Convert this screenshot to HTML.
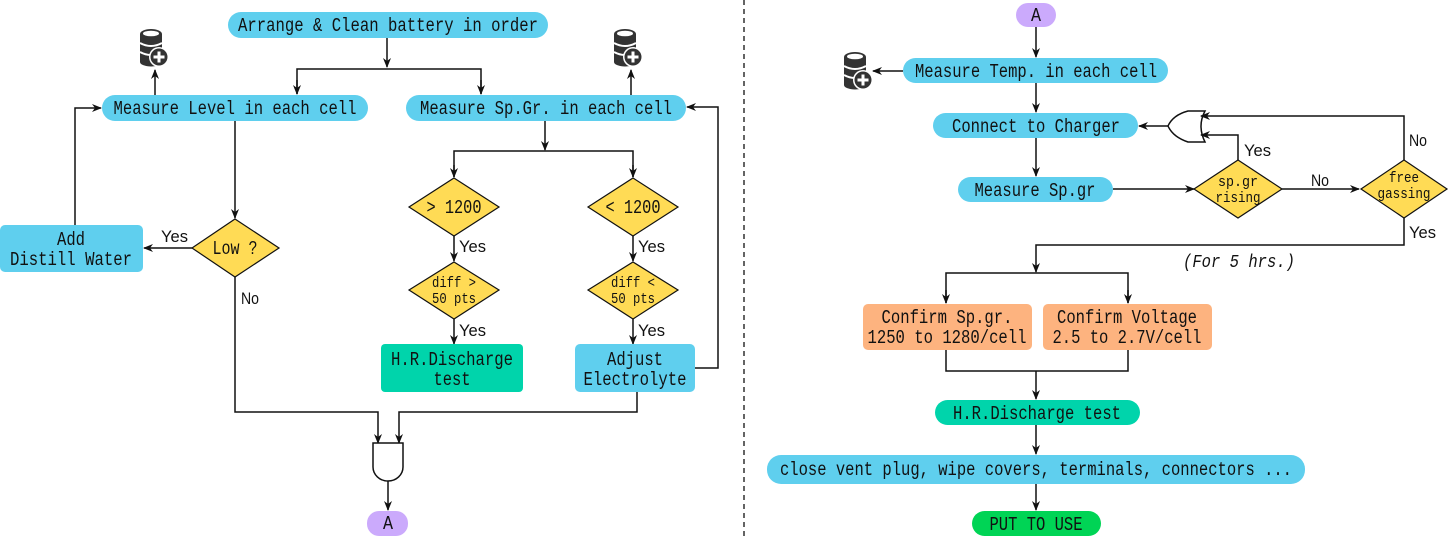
<!DOCTYPE html>
<html><head><meta charset="utf-8"><style>
html,body{margin:0;padding:0;background:#fff;}
svg{display:block;}
text{font-family:"Liberation Mono","DejaVu Sans Mono",monospace;fill:#111;}
.t text{font-size:19px;}
.s text{font-size:14.5px;}
.l text{font-family:"Liberation Sans","DejaVu Sans",sans-serif;font-size:17px;}
</style></head><body>
<svg width="1449" height="536" viewBox="0 0 1449 536" xmlns="http://www.w3.org/2000/svg">
<defs>
<marker id="a" markerWidth="10" markerHeight="10" refX="9" refY="5" orient="auto" markerUnits="userSpaceOnUse">
<path d="M0,1 L10,5 L0,9 L3,5 Z" fill="#111"/></marker>
<g id="db">
<ellipse cx="0" cy="5" rx="11" ry="5" fill="#333"/>
<rect x="-11" y="5" width="22" height="28" fill="#333"/>
<ellipse cx="0" cy="33" rx="11" ry="4.5" fill="#333"/>
<ellipse cx="0" cy="4.5" rx="8" ry="2.8" fill="#fff"/>
<path d="M-11,14 Q0,20 11,14" stroke="#fff" stroke-width="2" fill="none"/>
<path d="M-11,23 Q0,29 11,23" stroke="#fff" stroke-width="2" fill="none"/>
<circle cx="8" cy="28" r="10" fill="#fff"/>
<circle cx="8" cy="28" r="8.5" fill="#333"/>
<rect x="6.5" y="22.5" width="3" height="11" fill="#fff"/>
<rect x="2.5" y="26.5" width="11" height="3" fill="#fff"/>
</g>
</defs>
<g stroke="#111" stroke-width="1.5" fill="none">
<path d="M387,38 V67" marker-end="url(#a)"/>
<path d="M297,94 V69 H481 V94" />
<path d="M297,80 V94" marker-end="url(#a)"/>
<path d="M481,80 V94" marker-end="url(#a)"/>
<path d="M155,95 V70" marker-end="url(#a)"/>
<path d="M631,95 V70" marker-end="url(#a)"/>
<path d="M235,121 V218" marker-end="url(#a)"/>
<path d="M192,248 H144" marker-end="url(#a)"/>
<path d="M75,225 V108 H101" marker-end="url(#a)"/>
<path d="M235,277 V412 H378 V443" marker-end="url(#a)"/>
<path d="M545,121 V150" marker-end="url(#a)"/>
<path d="M454,177 V151 H633 V177"/>
<path d="M454,165 V177" marker-end="url(#a)"/>
<path d="M633,165 V177" marker-end="url(#a)"/>
<path d="M454,236 V261" marker-end="url(#a)"/>
<path d="M633,236 V261" marker-end="url(#a)"/>
<path d="M454,319 V344" marker-end="url(#a)"/>
<path d="M633,319 V344" marker-end="url(#a)"/>
<path d="M695,368 H718 V107 H687" marker-end="url(#a)"/>
<path d="M637,392 V412 H399 V443" marker-end="url(#a)"/>
<path d="M373,443 H403 V467 A15,14 0 0 1 373,467 Z" fill="#fff"/>
<path d="M388,481 V510" marker-end="url(#a)"/>
<path d="M1036,27 V57" marker-end="url(#a)"/>
<path d="M903,71 H873" marker-end="url(#a)"/>
<path d="M1036,83 V112" marker-end="url(#a)"/>
<path d="M1036,138 V176" marker-end="url(#a)"/>
<path d="M1168,126 H1139" marker-end="url(#a)"/>
<path d="M1205,111 H1188 Q1173,115 1168,126 Q1173,137 1188,142 H1205 Q1197,126 1205,111 Z" fill="#fff"/>
<path d="M1404,160 V116 H1201" marker-end="url(#a)"/>
<path d="M1238,160 V135 H1201" marker-end="url(#a)"/>
<path d="M1113,189 H1194" marker-end="url(#a)"/>
<path d="M1282,189 H1359" marker-end="url(#a)"/>
<path d="M1404,218 V245 H1036 V272" marker-end="url(#a)"/>
<path d="M946,303 V273 H1128 V303"/>
<path d="M946,290 V303" marker-end="url(#a)"/>
<path d="M1128,290 V303" marker-end="url(#a)"/>
<path d="M946,350 V371 H1128 V350"/>
<path d="M1036,371 V399" marker-end="url(#a)"/>
<path d="M1036,425 V454" marker-end="url(#a)"/>
<path d="M1036,484 V510" marker-end="url(#a)"/>
</g>
<line x1="744" y1="0" x2="744" y2="536" stroke="#111" stroke-width="1.3" stroke-dasharray="5,4"/>
<use href="#db" x="151" y="29"/>
<use href="#db" x="625" y="29"/>
<use href="#db" x="855" y="52"/>
<g>
<rect x="228" y="12" width="320" height="26" rx="13" fill="#5fcfee"/>
<rect x="102" y="95" width="266" height="26" rx="13" fill="#5fcfee"/>
<rect x="406" y="95" width="280" height="26" rx="13" fill="#5fcfee"/>
<rect x="0" y="225" width="143" height="47" rx="5" fill="#5fcfee"/>
<polygon points="235,219 279,248 235,277 192,248" fill="#ffdb55" stroke="#111" stroke-width="1.2"/>
<polygon points="454,178 499,207 454,236 409,207" fill="#ffdb55" stroke="#111" stroke-width="1.2"/>
<polygon points="633,178 678,207 633,236 588,207" fill="#ffdb55" stroke="#111" stroke-width="1.2"/>
<polygon points="454,262 499,290 454,319 409,290" fill="#ffdb55" stroke="#111" stroke-width="1.2"/>
<polygon points="633,262 678,290 633,319 588,290" fill="#ffdb55" stroke="#111" stroke-width="1.2"/>
<rect x="381" y="344" width="142" height="48" rx="4" fill="#00d4ab"/>
<rect x="575" y="344" width="120" height="48" rx="5" fill="#5fcfee"/>
<rect x="367" y="511" width="41" height="25" rx="12" fill="#cbaafc"/>
<rect x="1016" y="3" width="40" height="24" rx="12" fill="#cbaafc"/>
<rect x="903" y="58" width="265" height="25" rx="12.5" fill="#5fcfee"/>
<rect x="933" y="113" width="205" height="25" rx="12.5" fill="#5fcfee"/>
<rect x="958" y="177" width="155" height="25" rx="12.5" fill="#5fcfee"/>
<polygon points="1238,160 1282,189 1238,218 1194,189" fill="#ffdb55" stroke="#111" stroke-width="1.2"/>
<polygon points="1404,160 1447,189 1404,218 1361,189" fill="#ffdb55" stroke="#111" stroke-width="1.2"/>
<rect x="863" y="304" width="169" height="46" rx="5" fill="#fdb37f"/>
<rect x="1043" y="304" width="169" height="46" rx="5" fill="#fdb37f"/>
<rect x="935" y="400" width="205" height="25" rx="12.5" fill="#00d4ab"/>
<rect x="767" y="455" width="538" height="29" rx="14" fill="#5fcfee"/>
<rect x="972" y="511" width="129" height="25" rx="12.5" fill="#00d455"/>
</g>
<g class="t" text-anchor="middle" lengthAdjust="spacingAndGlyphs">
<text x="388" y="31" textLength="300" lengthAdjust="spacingAndGlyphs">Arrange &amp; Clean battery in order</text>
<text x="235" y="114" textLength="243" lengthAdjust="spacingAndGlyphs">Measure Level in each cell</text>
<text x="546" y="114" textLength="252" lengthAdjust="spacingAndGlyphs">Measure Sp.Gr. in each cell</text>
<text x="71" y="245" textLength="28" lengthAdjust="spacingAndGlyphs">Add</text>
<text x="71" y="265" textLength="122" lengthAdjust="spacingAndGlyphs">Distill Water</text>
<text x="235" y="254" textLength="45" lengthAdjust="spacingAndGlyphs">Low ?</text>
<text x="454" y="213" textLength="55" lengthAdjust="spacingAndGlyphs">&gt; 1200</text>
<text x="633" y="213" textLength="55" lengthAdjust="spacingAndGlyphs">&lt; 1200</text>
<text x="452" y="365" textLength="122" lengthAdjust="spacingAndGlyphs">H.R.Discharge</text>
<text x="452" y="385" textLength="37" lengthAdjust="spacingAndGlyphs">test</text>
<text x="635" y="365" textLength="56" lengthAdjust="spacingAndGlyphs">Adjust</text>
<text x="635" y="385" textLength="103" lengthAdjust="spacingAndGlyphs">Electrolyte</text>
<text x="388" y="529" textLength="10" lengthAdjust="spacingAndGlyphs">A</text>
<text x="1036" y="21" textLength="10" lengthAdjust="spacingAndGlyphs">A</text>
<text x="1036" y="77" textLength="242" lengthAdjust="spacingAndGlyphs">Measure Temp. in each cell</text>
<text x="1036" y="132" textLength="168" lengthAdjust="spacingAndGlyphs">Connect to Charger</text>
<text x="1035" y="196" textLength="121" lengthAdjust="spacingAndGlyphs">Measure Sp.gr</text>
<text x="947" y="323" textLength="131" lengthAdjust="spacingAndGlyphs">Confirm Sp.gr.</text>
<text x="947" y="343" textLength="159" lengthAdjust="spacingAndGlyphs">1250 to 1280/cell</text>
<text x="1127" y="323" textLength="140" lengthAdjust="spacingAndGlyphs">Confirm Voltage</text>
<text x="1127" y="343" textLength="149" lengthAdjust="spacingAndGlyphs">2.5 to 2.7V/cell</text>
<text x="1037" y="419" textLength="168" lengthAdjust="spacingAndGlyphs">H.R.Discharge test</text>
<text x="1036" y="475" textLength="512" lengthAdjust="spacingAndGlyphs">close vent plug, wipe covers, terminals, connectors ...</text>
<text x="1036" y="530" textLength="93" lengthAdjust="spacingAndGlyphs">PUT TO USE</text>
</g>
<g class="s" text-anchor="middle">
<text x="454" y="287" textLength="44" lengthAdjust="spacingAndGlyphs">diff &gt;</text>
<text x="454" y="303" textLength="44" lengthAdjust="spacingAndGlyphs">50 pts</text>
<text x="633" y="287" textLength="44" lengthAdjust="spacingAndGlyphs">diff &lt;</text>
<text x="633" y="303" textLength="44" lengthAdjust="spacingAndGlyphs">50 pts</text>
<text x="1238" y="186" textLength="40" lengthAdjust="spacingAndGlyphs">sp.gr</text>
<text x="1238" y="202" textLength="45" lengthAdjust="spacingAndGlyphs">rising</text>
<text x="1404" y="182" textLength="30" lengthAdjust="spacingAndGlyphs">free</text>
<text x="1404" y="198" textLength="53" lengthAdjust="spacingAndGlyphs">gassing</text>
</g>
<g class="l">
<text x="161" y="242" textLength="27" lengthAdjust="spacingAndGlyphs">Yes</text>
<text x="241" y="304" textLength="18" lengthAdjust="spacingAndGlyphs">No</text>
<text x="459" y="252" textLength="27" lengthAdjust="spacingAndGlyphs">Yes</text>
<text x="638" y="252" textLength="27" lengthAdjust="spacingAndGlyphs">Yes</text>
<text x="459" y="336" textLength="27" lengthAdjust="spacingAndGlyphs">Yes</text>
<text x="638" y="336" textLength="27" lengthAdjust="spacingAndGlyphs">Yes</text>
<text x="1244" y="156" textLength="27" lengthAdjust="spacingAndGlyphs">Yes</text>
<text x="1409" y="146" textLength="18" lengthAdjust="spacingAndGlyphs">No</text>
<text x="1311" y="186" textLength="18" lengthAdjust="spacingAndGlyphs">No</text>
<text x="1409" y="238" textLength="27" lengthAdjust="spacingAndGlyphs">Yes</text>
</g>
<text x="1183" y="267" font-style="italic" font-size="18" textLength="112" lengthAdjust="spacingAndGlyphs">(For 5 hrs.)</text>
</svg>
</body></html>
